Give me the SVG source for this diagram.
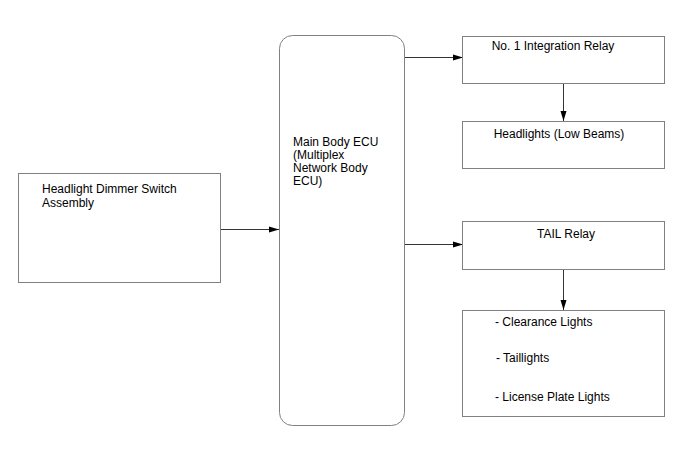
<svg xmlns="http://www.w3.org/2000/svg" width="688" height="463" viewBox="0 0 688 463">
<defs>
<style>
.box{fill:#fff;stroke:#808080;stroke-width:1}
.t{font-family:"Liberation Sans",Arial,sans-serif;font-size:12px;fill:#000}
.c{stroke:#000;stroke-width:0.8;fill:none;marker-end:url(#ah)}
</style>
<marker id="ah" viewBox="0 0 10 10" refX="10" refY="5" markerWidth="10" markerHeight="10" markerUnits="userSpaceOnUse" orient="auto">
<path d="M0,2 L10,5 L0,8 Z" fill="#000"/>
</marker>
</defs>
<rect width="688" height="463" fill="#fff"/>
<g id="connectors">
<line class="c" x1="221" y1="229.5" x2="279" y2="229.5"/>
<line class="c" x1="405" y1="57.5" x2="463" y2="57.5"/>
<line class="c" x1="405" y1="244.5" x2="463" y2="244.5"/>
<line class="c" x1="563.5" y1="83" x2="563.5" y2="121"/>
<line class="c" x1="563.5" y1="269" x2="563.5" y2="310"/>
</g>
<g id="dimmer">
<rect class="box" x="18.5" y="173.5" width="202" height="109"/>
<text class="t" x="42" y="193">Headlight Dimmer Switch</text>
<text class="t" x="42" y="207">Assembly</text>
</g>
<g id="ecu">
<rect class="box" x="279.5" y="35.5" width="125" height="390" rx="13" ry="13"/>
<text class="t" x="293" y="146">Main Body ECU</text>
<text class="t" x="293" y="159">(Multiplex</text>
<text class="t" x="293" y="172">Network Body</text>
<text class="t" x="293" y="185">ECU)</text>
</g>
<g id="integration-relay">
<rect class="box" x="462.5" y="36.5" width="202" height="47"/>
<text class="t" x="553" y="50" text-anchor="middle">No. 1 Integration Relay</text>
</g>
<g id="headlights">
<rect class="box" x="462.5" y="121.5" width="202" height="47"/>
<text class="t" x="559" y="138" text-anchor="middle">Headlights (Low Beams)</text>
</g>
<g id="tail-relay">
<rect class="box" x="462.5" y="221.5" width="202" height="48"/>
<text class="t" x="566" y="238" text-anchor="middle">TAIL Relay</text>
</g>
<g id="tail-lights">
<rect class="box" x="462.5" y="310.5" width="202" height="106"/>
<text class="t" x="495" y="326">- Clearance Lights</text>
<text class="t" x="496" y="362">- Taillights</text>
<text class="t" x="495" y="401">- License Plate Lights</text>
</g>
</svg>
